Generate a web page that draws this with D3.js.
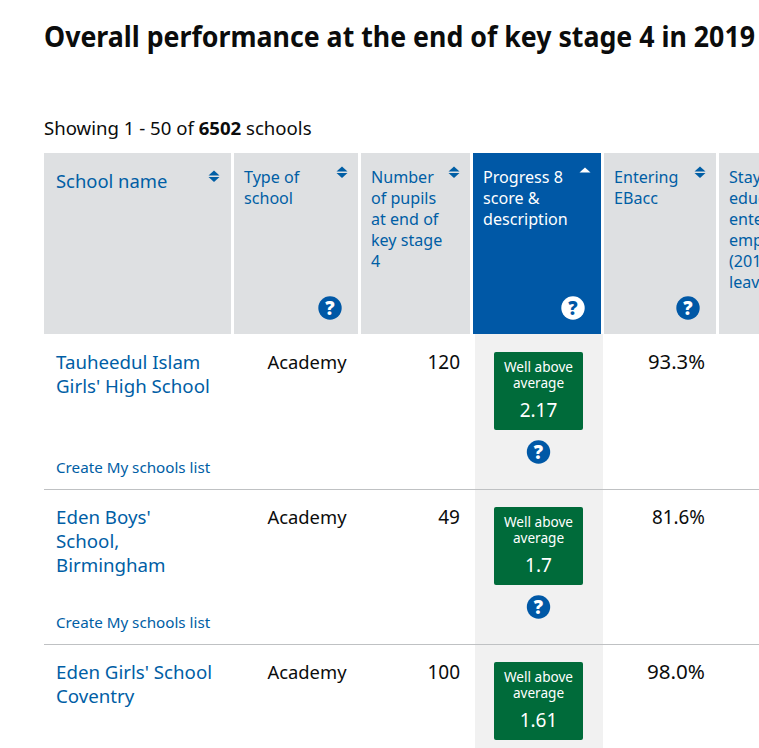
<!DOCTYPE html>
<html><head><meta charset="utf-8">
<script src="https://d3js.org/d3.v7.min.js"></script>
<style>html,body{margin:0;padding:0;background:#fff;overflow:hidden}svg{display:block;font-family:"Noto Sans",sans-serif}</style>
</head><body><div id="c"></div>
<script>
const title = "Overall performance at the end of key stage 4 in 2019";
const columns = ["School name","Type of school","Number of pupils at end of key stage 4","Progress 8 score & description","Entering EBacc","Staying in education or entering employment (2017 leavers)"];
const headerLines = [["School name"],["Type of","school"],["Number","of pupils","at end of","key stage","4"],["Progress 8","score &","description"],["Entering","EBacc"],["Staying in","education","entering","employment","(2017","leavers)"]];
const schools = ["Tauheedul Islam Girls' High School","Eden Boys' School, Birmingham","Eden Girls' School Coventry"];
const schoolLines = [["Tauheedul Islam","Girls' High School"],["Eden Boys'","School,","Birmingham"],["Eden Girls' School","Coventry"]];
const types = ["Academy","Academy","Academy"];
const pupils = [120,49,100];
const progress8 = ["2.17","1.7","1.61"];
const descriptions = [["Well above","average"],["Well above","average"],["Well above","average"]];
const ebacc = ["93.3%","81.6%","98.0%"];

const W=759,H=748, blue="#005ea5", deep="#0058a6", ink="#0b0c0c";
const svg=d3.select("#c").append("svg").attr("width",W).attr("height",H);

const colWidths=[187,124,109,128,112,112];
const edges=d3.cumsum([44,...colWidths.map(w=>w+3)]);
const x=d3.scaleOrdinal().domain(columns).range(edges);
const width=d3.scaleOrdinal().domain(columns).range(colWidths);
const rowY=d3.scaleBand().domain(schools).range([334,334+155*3]);
const ebaccFit=[57,53,58];

function T(g,s,px,py,size,fill,opt={}){
  const t=g.append("text").attr("x",px).attr("y",py).attr("font-size",size).attr("fill",fill).text(s);
  if(opt.anchor)t.attr("text-anchor",opt.anchor);
  if(opt.weight)t.attr("font-weight",opt.weight);
  if(opt.len)t.attr("textLength",opt.len).attr("lengthAdjust","spacingAndGlyphs");
  return t;
}
function help(g,cx,cy,bg,fg){
  g.append("circle").attr("cx",cx).attr("cy",cy).attr("r",11.7).attr("fill",bg);
  T(g,"?",cx,cy+6.5,18.5,fg,{anchor:"middle",weight:800}).attr("font-family","'Open Sans'");
}
function sortIcon(g,cx,ty,active,col){
  g.append("path").attr("d",`M${cx-5.5},${ty+4.5}L${cx},${ty-0.5}L${cx+5.5},${ty+4.5}Z`).attr("fill",col);
  if(!active) g.append("path").attr("d",`M${cx-5.5},${ty+6}L${cx},${ty+11}L${cx+5.5},${ty+6}Z`).attr("fill",col);
}

T(svg,title,44,47,28.6,ink,{weight:700,len:711});
const sh=svg.append("text").attr("x",44).attr("y",135).attr("font-size",18.6).attr("fill",ink);
sh.append("tspan").text("Showing 1 - 50 of ");
sh.append("tspan").attr("font-weight",700).text("6502");
sh.append("tspan").text(" schools");

svg.append("rect").attr("x",x(columns[3])+2).attr("y",334).attr("width",width(columns[3])).attr("height",H-334).attr("fill","#f1f1f1");

const head=svg.append("g");
columns.forEach((c,i)=>{
  const active=i===3, x0=x(c), w=width(c);
  head.append("rect").attr("x",x0).attr("y",153).attr("width",w).attr("height",181).attr("fill",active?deep:"#dee0e2");
  const col=active?"#fff":blue;
  const first=i===0;
  headerLines[i].forEach((l,j)=>T(head,l,x0+(first?12:10),(first?188:183)+j*21,first?18.4:16.1,col));
  if(i<5) sortIcon(head,active?585:x0+w-(first?17:16),first?171:active?168:167,active,col);
  if(i===1||i===3||i===4) help(head,x0+w-28,308,active?"#fff":deep,active?deep:"#fff");
});

schools.forEach((s,i)=>{
  const y0=rowY(s), g=svg.append("g");
  schoolLines[i].forEach((l,j)=>T(g,l,56,y0+35+j*24,18.7,blue));
  T(g,types[i],267.5,y0+35,18.7,ink,{len:79});
  T(g,String(pupils[i]),460,y0+35,19,ink,{anchor:"end"});
  T(g,ebacc[i],705,y0+35,19,ink,{anchor:"end",len:ebaccFit[i]});
  g.append("rect").attr("x",494).attr("y",y0+18).attr("width",89).attr("height",78).attr("rx",2).attr("fill","#006b3a");
  descriptions[i].forEach((l,j)=>T(g,l,538.5,y0+38+j*16,13.6,"#fff",{anchor:"middle"}));
  T(g,progress8[i],538.5,y0+83,19,"#fff",{anchor:"middle"});
  if(i<2){
    help(g,538.5,y0+118,deep,"#fff");
    T(g,"Create My schools list",56,y0+139,15.2,blue);
    g.append("line").attr("x1",44).attr("x2",W).attr("y1",y0+155.5).attr("y2",y0+155.5).attr("stroke","#bfc1c3");
  }
});
</script></body></html>
